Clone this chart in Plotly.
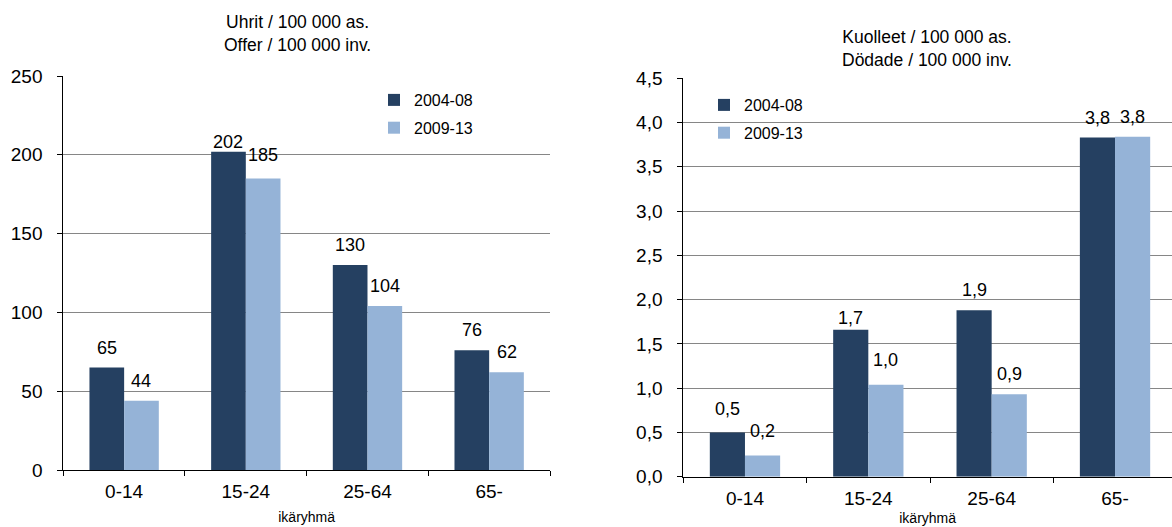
import plotly.graph_objects as go

# Age groups and periods
age_groups = ["0-14", "15-24", "25-64", "65-"]
periods = ["2004-08", "2009-13"]

# Victims per 100 000 inhabitants
victims_2004_08 = [65, 202, 130, 76]
victims_2009_13 = [44, 185, 104, 62]

# Deaths per 100 000 inhabitants
deaths_2004_08 = [0.50, 1.66, 1.88, 3.83]
deaths_2009_13 = [0.24, 1.04, 0.93, 3.84]

left_ticks = [0, 50, 100, 150, 200, 250]
right_ticks = [0.0, 0.5, 1.0, 1.5, 2.0, 2.5, 3.0, 3.5, 4.0, 4.5]

DARK = "#254061"
LIGHT = "#95B3D7"
GRID = "#868686"
FONT = "Liberation Sans"
W, H = 1172, 527

BARGAP = 0.43
HALF = (1 - BARGAP) / 4  # offset of each bar centre from the category centre

fig = go.Figure()

fig.add_trace(go.Bar(x=age_groups, y=victims_2004_08, name=periods[0],
                     marker=dict(color=DARK, line=dict(width=0)),
                     xaxis="x", yaxis="y", legend="legend", legendgroup="a"))
fig.add_trace(go.Bar(x=age_groups, y=victims_2009_13, name=periods[1],
                     marker=dict(color=LIGHT, line=dict(width=0)),
                     xaxis="x", yaxis="y", legend="legend", legendgroup="b"))
fig.add_trace(go.Bar(x=age_groups, y=deaths_2004_08, name=periods[0],
                     marker=dict(color=DARK, line=dict(width=0)),
                     xaxis="x2", yaxis="y2", legend="legend2", legendgroup="c"))
fig.add_trace(go.Bar(x=age_groups, y=deaths_2009_13, name=periods[1],
                     marker=dict(color=LIGHT, line=dict(width=0)),
                     xaxis="x2", yaxis="y2", legend="legend2", legendgroup="d"))

# Value labels above the bars: pixel lift of the label centre above the bar top,
# with a few labels nudged (axis, category index, series index)
LIFT = 20
nudges = {("x", 1, 0): -10, ("x", 1, 1): 3,
          ("x2", 0, 0): 3, ("x2", 0, 1): 4,
          ("x2", 1, 0): -8, ("x2", 1, 1): 5}


def fmt_int(v):
    return f"{v:.0f}"


def fmt_dec(v):
    return f"{v:.1f}".replace(".", ",")


annotations = []
for ax, ay, series, fmt in [("x", "y", [victims_2004_08, victims_2009_13], fmt_int),
                            ("x2", "y2", [deaths_2004_08, deaths_2009_13], fmt_dec)]:
    for s, vals in enumerate(series):
        for i, v in enumerate(vals):
            annotations.append(dict(
                x=i + (-HALF if s == 0 else HALF), y=v, xref=ax, yref=ay,
                text=fmt(v), showarrow=False, yanchor="middle",
                yshift=LIFT + nudges.get((ax, i, s), 0),
                font=dict(family=FONT, size=18, color="black")))

# Chart titles
annotations.append(dict(x=297 / W, y=1 - 10 / H, xref="paper", yref="paper",
                        text="Uhrit / 100 000 as.<br>Offer / 100 000 inv.",
                        showarrow=False, xanchor="center", yanchor="top",
                        font=dict(family=FONT, size=17.5, color="black")))
annotations.append(dict(x=927 / W, y=1 - 25 / H, xref="paper", yref="paper",
                        text="Kuolleet / 100 000 as.<br>Dödade / 100 000 inv.",
                        showarrow=False, xanchor="center", yanchor="top",
                        font=dict(family=FONT, size=17.5, color="black")))

# Left plot area: x 63..550 px, y 76..470 px
# Right plot area: x 683..1177 px (clipped at the page edge), y 78..477 px
lx0, lx1 = 63.3 / W, 550 / W
rx0 = 683.3 / W
r_cat = 123.35
r_max = 3.5 - (683.3 + 4 * r_cat - W) / r_cat

axis_common = dict(showline=True, linecolor="black", linewidth=1,
                   ticks="outside", ticklen=5, tickcolor="black",
                   automargin=False,
                   tickfont=dict(family=FONT, size=19, color="black"))


def xtitle(standoff):
    return dict(text="ikäryhmä", standoff=standoff,
                font=dict(family=FONT, size=14, color="black"))


fig.update_layout(
    width=W, height=H,
    margin=dict(l=0, r=0, t=0, b=0, autoexpand=False),
    paper_bgcolor="white", plot_bgcolor="white",
    barmode="group", bargap=BARGAP, bargroupgap=0,
    separators=", ",
    font=dict(family=FONT, color="black"),
    xaxis=dict(domain=[lx0, lx1], anchor="y", type="category",
               range=[-0.5, 3.5], tickson="boundaries", showgrid=False,
               ticklabelstandoff=4, title=xtitle(11), **axis_common),
    yaxis=dict(domain=[1 - 470 / H, 1 - 76 / H], anchor="x",
               range=[0, 250], tickvals=left_ticks, showgrid=True,
               gridcolor=GRID, gridwidth=1, zeroline=False,
               ticklabelstandoff=11, **axis_common),
    xaxis2=dict(domain=[rx0, 1], anchor="y2", type="category",
                range=[-0.5, r_max], tickson="boundaries", showgrid=False,
                ticklabelstandoff=4, title=xtitle(5), **axis_common),
    yaxis2=dict(domain=[1 - 476.7 / H, 1 - 78.3 / H], anchor="x2",
                range=[0, 4.5], tickvals=right_ticks, tickformat=".1f",
                showgrid=True, gridcolor=GRID, gridwidth=1, zeroline=False,
                ticklabelstandoff=11, **axis_common),
    legend=dict(x=374 / W, y=1 - 83 / H, xanchor="left", yanchor="top",
                bgcolor="rgba(0,0,0,0)", tracegroupgap=4,
                font=dict(family=FONT, size=16, color="black")),
    legend2=dict(x=704 / W, y=1 - 88 / H, xanchor="left", yanchor="top",
                 bgcolor="rgba(0,0,0,0)", tracegroupgap=4,
                 font=dict(family=FONT, size=16, color="black")),
    annotations=annotations,
)

fig.write_html("out.html")
